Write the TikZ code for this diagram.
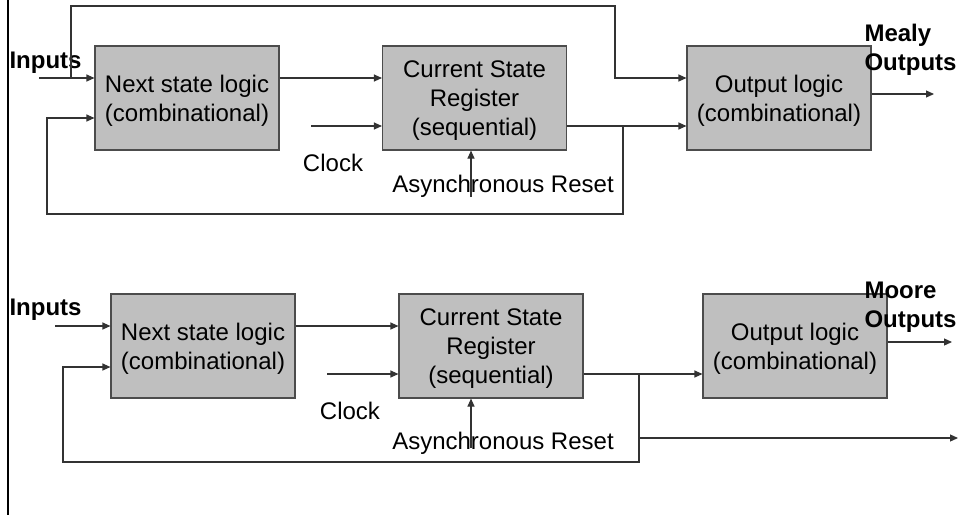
\documentclass[tikz,border=0pt]{standalone}
\usepackage{fontspec}
\setmainfont{Liberation Sans}
\usetikzlibrary{arrows.meta,calc}

\begin{document}
\begin{tikzpicture}[x=0.5pt, y=-0.5pt, >={Triangle[length=4pt,width=3.5pt]},
  line width=0.55pt, draw=black!80,
  block/.style={draw=black!70, fill=black!25, minimum width=92pt, minimum height=52pt,
    inner sep=0pt, text depth=-1pt, align=center, font=\fontsize{12pt}{14.5pt}\selectfont},
  lbl/.style={inner sep=0pt, font=\fontsize{12pt}{14.5pt}\selectfont},
  blbl/.style={inner sep=0pt, align=left, font=\fontsize{12pt}{14.5pt}\selectfont\bfseries}]
\useasboundingbox (0,0) rectangle (962,515);
% Rand
\draw[black, line width=1pt] (8,0) -- (8,515);
%
% Mealy
%
\node[block] (ns1) at (187,98) {Next state logic\\(combinational)};
\node[block] (csr1) at (474.5,98) {Current State\\Register\\(sequential)};
\node[block] (out1) at (779,98) {Output logic\\(combinational)};
\node[blbl, anchor=west] (inlbl1) at (9,63) {Inputs};
\node[blbl, anchor=west] (outlbl1) at (864,50) {Mealy\\Outputs};
\node[lbl] (clklbl1) at (333,163) {Clock};
\node[lbl] (rstlbl1) at (503,186) {Asynchronous Reset};
\coordinate (in1) at (39,78);
\coordinate (tap1) at (71,78);
\coordinate (top1) at (615,6);
\coordinate (clk1) at (311,126);
\coordinate (rst1) at (471,197);
\coordinate (br1) at (623,126);
\coordinate (bot1) at (47,214);
\coordinate (y1) at (934,94);
% Eingaenge
\draw[->] (in1) -- (in1 -| ns1.west);
\draw[->] (tap1) |- (top1) |- (in1 -| out1.west);
\draw[->] (in1 -| ns1.east) -- (in1 -| csr1.west);
\draw[->] (clk1) -- (clk1 -| csr1.west);
\draw[->] (rst1) -- (rst1 |- csr1.south);
% Ausgaenge
\draw[->] (clk1 -| csr1.east) -- (clk1 -| out1.west);
\draw[->] (br1) |- (bot1) |- ($(ns1.west)+(0,20)$);
\draw[->] (y1 -| out1.east) -- (y1);
%
% Moore
%
\node[block] (ns2) at (203,346) {Next state logic\\(combinational)};
\node[block] (csr2) at (491,346) {Current State\\Register\\(sequential)};
\node[block] (out2) at (795,346) {Output logic\\(combinational)};
\node[blbl, anchor=west] (inlbl2) at (9,310) {Inputs};
\node[blbl, anchor=west] (outlbl2) at (864,307) {Moore\\Outputs};
\node[lbl] (clklbl2) at (350,411) {Clock};
\node[lbl] (rstlbl2) at (503,443) {Asynchronous Reset};
\coordinate (in2) at (55,326);
\coordinate (clk2) at (327,374);
\coordinate (rst2) at (471,448);
\coordinate (br2) at (639,374);
\coordinate (bot2) at (63,462);
\coordinate (st2) at (958,438);
\coordinate (y2) at (952,342);
% Eingaenge
\draw[->] (in2) -- (in2 -| ns2.west);
\draw[->] (in2 -| ns2.east) -- (in2 -| csr2.west);
\draw[->] (clk2) -- (clk2 -| csr2.west);
\draw[->] (rst2) -- (rst2 |- csr2.south);
% Ausgaenge
\draw[->] (clk2 -| csr2.east) -- (clk2 -| out2.west);
\draw[->] (br2) |- (bot2) |- ($(ns2.west)+(0,21)$);
\draw[->] (br2 |- st2) -- (st2);
\draw[->] (y2 -| out2.east) -- (y2);
\end{tikzpicture}
\end{document}
